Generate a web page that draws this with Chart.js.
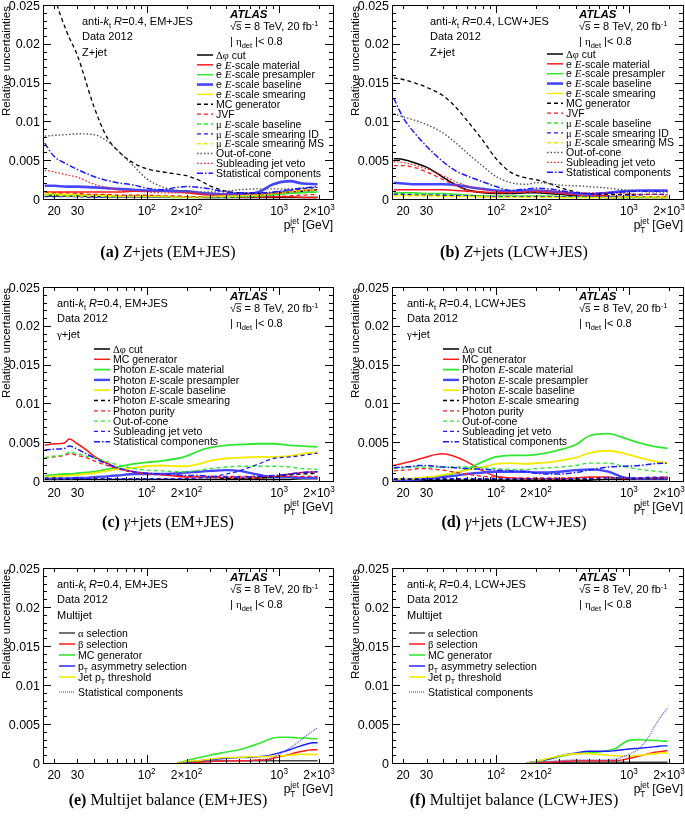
<!DOCTYPE html>
<html><head><meta charset="utf-8">
<script src="https://cdn.jsdelivr.net/npm/chart.js@4.4.1/dist/chart.umd.min.js"></script>
<style>
html,body{margin:0;padding:0;background:#fff}
#wrap{position:relative;width:685px;height:825px;overflow:hidden;background:#fff}
canvas{position:absolute;left:0;top:0}
.cap{position:absolute;width:300px;text-align:center;font-family:"Liberation Serif","Times New Roman",serif;font-size:16px;color:#000;white-space:nowrap;line-height:16px}
</style></head><body><div id="wrap">
<canvas id="ca" width="685" height="825"></canvas>
<canvas id="cb" width="685" height="825"></canvas>
<canvas id="cc" width="685" height="825"></canvas>
<canvas id="cd" width="685" height="825"></canvas>
<canvas id="ce" width="685" height="825"></canvas>
<canvas id="cf" width="685" height="825"></canvas>
<div class="cap" style="left:18px;top:244px"><b>(a)</b> <i>Z</i>+jets (EM+JES)</div>
<div class="cap" style="left:364px;top:244px"><b>(b)</b> <i>Z</i>+jets (LCW+JES)</div>
<div class="cap" style="left:18px;top:514px"><b>(c)</b> <i>γ</i>+jets (EM+JES)</div>
<div class="cap" style="left:364px;top:514px"><b>(d)</b> <i>γ</i>+jets (LCW+JES)</div>
<div class="cap" style="left:18px;top:792px"><b>(e)</b> Multijet balance (EM+JES)</div>
<div class="cap" style="left:364px;top:792px"><b>(f)</b> Multijet balance (LCW+JES)</div>
</div>
<script>
// ---------------- DATA ----------------
const ptZ = [17,20,25,30,40,50,60,80,100,130,170,200,250,300,400,500,700,900,1200,1500,1950];
const ptG = [17,20,24,26,30,35,40,50,60,80,100,130,170,200,250,300,400,500,700,900,1200,1500,1950];
const ptM = [170,200,250,300,400,500,600,700,800,900,1000,1200,1400,1600,1800,1950];

const yTickValues = [0,0.005,0.01,0.015,0.02,0.025];
const yTickLabels = ['0','0.005','0.01','0.015','0.02','0.025'];
const xTickValues = [20,30,100,200,1000,2000];
const xTickLabels = ['20','30','10{sup:2}','2×10{sup:2}','10{sup:3}','2×10{sup:3}'];

// Z+jet EM+JES
const aDphi  = [0.0004,0.0004,0.0004,0.0004,0.0003,0.0003,0.0003,0.0003,0.0003,0.0003,0.0003,0.0003,0.0002,0.0002,0.0002,0.0002,0.0002,0.0002,0.0002,0.0002,0.0002];
const aEMat  = [0.0009,0.0009,0.0009,0.0009,0.0009,0.0009,0.0009,0.001,0.001,0.001,0.0009,0.0008,0.0006,0.0005,0.0004,0.0003,0.0003,0.0003,0.0003,0.0002,0.0002];
const aEPre  = [0.0006,0.0006,0.0005,0.0005,0.0005,0.0004,0.0004,0.0004,0.0004,0.0003,0.0003,0.0003,0.0003,0.0003,0.0003,0.0003,0.0004,0.0005,0.0007,0.0008,0.0009];
const aEBase = [0.0017,0.0017,0.0016,0.0016,0.0015,0.0014,0.0013,0.0012,0.0011,0.0011,0.001,0.001,0.0008,0.0007,0.0006,0.0006,0.0009,0.0019,0.0023,0.002,0.0019];
const aESmr  = [0.0008,0.0007,0.0006,0.0006,0.0005,0.0005,0.0004,0.0004,0.0004,0.0004,0.0003,0.0003,0.0003,0.0003,0.0004,0.0004,0.0005,0.0007,0.001,0.0011,0.0012];
const aMCgen = [0.033,0.0265,0.0215,0.0185,0.0119,0.008,0.0063,0.0046,0.0039,0.0035,0.0032,0.003,0.0024,0.0017,0.001,0.0008,0.0007,0.0008,0.0009,0.001,0.0012];
const aJVF   = [0.0009,0.0008,0.0008,0.0007,0.0006,0.0006,0.0005,0.0005,0.0005,0.0004,0.0004,0.0003,0.0003,0.0003,0.0003,0.0002,0.0002,0.0003,0.0004,0.0005,0.0006];
const aMuBase= [0.0004,0.0004,0.0004,0.0003,0.0003,0.0003,0.0003,0.0003,0.0003,0.0002,0.0002,0.0002,0.0002,0.0002,0.0002,0.0003,0.0004,0.0006,0.0008,0.0009,0.001];
const aMuID  = [0.0003,0.0003,0.0003,0.0003,0.0002,0.0002,0.0002,0.0002,0.0002,0.0002,0.0002,0.0002,0.0002,0.0002,0.0003,0.0004,0.0005,0.0008,0.0011,0.0013,0.0015];
const aMuMS  = [0.0005,0.0005,0.0004,0.0004,0.0004,0.0003,0.0003,0.0003,0.0003,0.0003,0.0002,0.0002,0.0002,0.0003,0.0003,0.0004,0.0005,0.0007,0.0009,0.0011,0.0012];
const aOOC   = [0.0081,0.0082,0.0083,0.0084,0.0083,0.0075,0.0063,0.0042,0.0026,0.0016,0.0011,0.001,0.0009,0.0009,0.001,0.0012,0.0013,0.0013,0.0013,0.0014,0.0015];
const aSubJV = [0.0037,0.0035,0.0031,0.0028,0.0019,0.0015,0.0012,0.001,0.0009,0.0008,0.0008,0.0008,0.0007,0.0006,0.0006,0.0006,0.0006,0.0007,0.0009,0.0011,0.0012];
const aStat  = [0.0072,0.0055,0.0045,0.0038,0.0029,0.0024,0.0021,0.0018,0.0014,0.0012,0.0015,0.0016,0.0015,0.0013,0.0009,0.0008,0.0008,0.0009,0.0012,0.0014,0.0016];

// Z+jet LCW+JES
const bDphi  = [0.0052,0.0051,0.0046,0.0041,0.0028,0.0018,0.0012,0.0008,0.0007,0.0007,0.0008,0.0008,0.0007,0.0006,0.0004,0.0003,0.0002,0.0002,0.0002,0.0002,0.0002];
const bEMat  = [0.0012,0.0012,0.0012,0.0012,0.0012,0.0011,0.001,0.0009,0.0008,0.0009,0.001,0.001,0.0009,0.0008,0.0006,0.0005,0.0004,0.0003,0.0003,0.0003,0.0003];
const bEPre  = [0.0008,0.0008,0.0008,0.0007,0.0007,0.0006,0.0005,0.0004,0.0004,0.0004,0.0004,0.0004,0.0004,0.0003,0.0003,0.0003,0.0003,0.0003,0.0003,0.0003,0.0003];
const bEBase = [0.0021,0.002,0.0019,0.0019,0.0019,0.0018,0.0016,0.0013,0.0011,0.001,0.0011,0.0011,0.001,0.0009,0.0007,0.0006,0.0008,0.001,0.0011,0.0011,0.0011];
const bESmr  = [0.0005,0.0005,0.0005,0.0005,0.0004,0.0004,0.0004,0.0003,0.0003,0.0003,0.0003,0.0003,0.0003,0.0002,0.0002,0.0002,0.0002,0.0002,0.0002,0.0002,0.0002];
const bMCgen = [0.0156,0.0154,0.0149,0.0144,0.0133,0.0118,0.0102,0.0075,0.0052,0.0034,0.0027,0.0025,0.002,0.0015,0.0009,0.0007,0.0006,0.0006,0.0006,0.0006,0.0006];
const bJVF   = [0.0043,0.0043,0.004,0.0035,0.0025,0.0017,0.0012,0.0009,0.0008,0.0008,0.0009,0.0009,0.0008,0.0007,0.0005,0.0004,0.0003,0.0003,0.0003,0.0003,0.0003];
const bMuBase= [0.0007,0.0007,0.0006,0.0006,0.0005,0.0005,0.0004,0.0004,0.0003,0.0003,0.0003,0.0003,0.0003,0.0003,0.0002,0.0002,0.0002,0.0002,0.0002,0.0002,0.0002];
const bMuID  = [0.0006,0.0006,0.0005,0.0005,0.0005,0.0004,0.0004,0.0003,0.0003,0.0003,0.0003,0.0003,0.0003,0.0003,0.0003,0.0003,0.0003,0.0004,0.0005,0.0006,0.0006];
const bMuMS  = [0.0004,0.0004,0.0004,0.0004,0.0003,0.0003,0.0003,0.0003,0.0002,0.0002,0.0002,0.0002,0.0002,0.0002,0.0002,0.0002,0.0002,0.0003,0.0003,0.0003,0.0003];
const bOOC   = [0.011,0.0106,0.0101,0.0096,0.0085,0.0072,0.006,0.0042,0.0029,0.0021,0.0019,0.0021,0.002,0.0018,0.0017,0.0016,0.0014,0.0012,0.001,0.0009,0.0009];
const bSubJV = [0.0048,0.0047,0.0043,0.0039,0.003,0.0022,0.0017,0.0012,0.001,0.0009,0.0009,0.001,0.001,0.0009,0.0008,0.0008,0.0008,0.0007,0.0006,0.0006,0.0005];
const bStat  = [0.013,0.0105,0.0083,0.0068,0.0048,0.0036,0.003,0.0022,0.0016,0.0011,0.0013,0.0014,0.0013,0.0011,0.0008,0.0007,0.0008,0.0009,0.001,0.001,0.001];

// gamma+jet EM+JES
const cDphi  = [0.0002,0.0002,0.0002,0.0002,0.0002,0.0002,0.0002,0.0002,0.0002,0.0002,0.0002,0.0002,0.0002,0.0002,0.0002,0.0002,0.0002,0.0002,0.0002,0.0002,0.0002,0.0003,0.0003];
const cMCgen = [0.0046,0.0048,0.0049,0.0054,0.0048,0.004,0.0032,0.0023,0.0017,0.0012,0.001,0.0008,0.0006,0.0005,0.0005,0.0005,0.0004,0.0004,0.0004,0.0005,0.0009,0.0011,0.0012];
const cMat   = [0.0007,0.0008,0.0009,0.0009,0.001,0.0011,0.0012,0.0015,0.0018,0.0022,0.0024,0.0026,0.0029,0.0032,0.0039,0.0043,0.0046,0.0047,0.0048,0.0048,0.0046,0.0045,0.0044];
const cPre   = [0.0003,0.0003,0.0003,0.0003,0.0004,0.0004,0.0005,0.0006,0.0007,0.0009,0.0009,0.0009,0.001,0.0011,0.0012,0.0013,0.0014,0.0013,0.0008,0.0005,0.0005,0.0004,0.0004];
const cBase  = [0.0005,0.0006,0.0007,0.0007,0.0008,0.0009,0.001,0.0013,0.0015,0.0017,0.0019,0.002,0.0019,0.0019,0.0022,0.0026,0.0029,0.003,0.0031,0.0031,0.0032,0.0035,0.0037];
const cSmr   = [0.0002,0.0002,0.0002,0.0002,0.0002,0.0002,0.0002,0.0002,0.0002,0.0002,0.0002,0.0002,0.0002,0.0002,0.0002,0.0002,0.0003,0.0003,0.0004,0.0005,0.0008,0.0009,0.001];
const cPur   = [0.003,0.0031,0.0033,0.0035,0.0033,0.003,0.0026,0.002,0.0016,0.0011,0.0009,0.0008,0.0007,0.0006,0.0006,0.0006,0.0006,0.0006,0.0006,0.0006,0.0006,0.0006,0.0006];
const cOOC   = [0.003,0.0032,0.0034,0.0037,0.0035,0.0032,0.003,0.0025,0.0021,0.0016,0.0014,0.0013,0.0012,0.0012,0.0014,0.0016,0.0018,0.0019,0.0019,0.0019,0.0018,0.0016,0.0015];
const cSubJV = [0.0004,0.0004,0.0004,0.0004,0.0004,0.0003,0.0003,0.0003,0.0003,0.0003,0.0003,0.0003,0.0003,0.0003,0.0004,0.0005,0.0009,0.0013,0.0022,0.0029,0.0031,0.0033,0.0036];
const cStat  = [0.004,0.0041,0.0042,0.0045,0.0041,0.0035,0.003,0.0022,0.0017,0.0012,0.001,0.0009,0.0008,0.0007,0.0007,0.0006,0.0005,0.0005,0.0006,0.0007,0.0009,0.0011,0.0012];

// gamma+jet LCW+JES
const dDphi  = [0.0001,0.0001,0.0001,0.0001,0.0001,0.0001,0.0001,0.0001,0.0001,0.0001,0.0001,0.0001,0.0001,0.0001,0.0001,0.0001,0.0001,0.0001,0.0002,0.0002,0.0002,0.0002,0.0002];
const dMCgen = [0.002,0.0023,0.0026,0.0028,0.0031,0.0034,0.0035,0.0031,0.0025,0.0013,0.0006,0.0004,0.0003,0.0003,0.0003,0.0003,0.0004,0.0005,0.0005,0.0003,0.0003,0.0004,0.0005];
const dMat   = [0.0002,0.0002,0.0003,0.0003,0.0004,0.0005,0.0007,0.001,0.0015,0.0025,0.0031,0.0033,0.0033,0.0034,0.0037,0.004,0.0047,0.0058,0.0061,0.0056,0.0049,0.0045,0.0042];
const dPre   = [0.0001,0.0001,0.0002,0.0002,0.0003,0.0004,0.0005,0.0007,0.0009,0.0011,0.0012,0.0012,0.0012,0.0011,0.0011,0.0012,0.0014,0.0015,0.0012,0.0005,0.0003,0.0003,0.0003];
const dBase  = [0.0002,0.0003,0.0003,0.0004,0.0005,0.0006,0.0008,0.0011,0.0014,0.0018,0.0022,0.0023,0.0022,0.0023,0.0024,0.0026,0.003,0.0036,0.0039,0.0036,0.003,0.0026,0.0023];
const dSmr   = [0.0002,0.0002,0.0002,0.0002,0.0002,0.0002,0.0002,0.0002,0.0002,0.0002,0.0002,0.0002,0.0002,0.0002,0.0002,0.0002,0.0002,0.0002,0.0002,0.0002,0.0003,0.0003,0.0003];
const dPur   = [0.0013,0.0014,0.0015,0.0016,0.0016,0.0015,0.0014,0.0011,0.0009,0.0006,0.0005,0.0004,0.0004,0.0004,0.0004,0.0004,0.0004,0.0004,0.0004,0.0004,0.0004,0.0004,0.0004];
const dOOC   = [0.0016,0.0017,0.0018,0.0018,0.0018,0.0018,0.0018,0.0018,0.0018,0.0017,0.0016,0.0015,0.0015,0.0016,0.0017,0.0018,0.002,0.0023,0.0023,0.0019,0.0015,0.0013,0.0011];
const dSubJV = [0.0003,0.0003,0.0003,0.0003,0.0003,0.0003,0.0003,0.0003,0.0003,0.0003,0.0003,0.0003,0.0003,0.0003,0.0003,0.0003,0.0003,0.0003,0.0004,0.0004,0.0004,0.0005,0.0005];
const dStat  = [0.0017,0.0018,0.0019,0.002,0.002,0.0019,0.0018,0.0017,0.0016,0.0015,0.0014,0.0013,0.0012,0.001,0.0009,0.0009,0.0011,0.0014,0.0018,0.0019,0.002,0.0022,0.0023];

// Multijet EM+JES
const eAlpha = [0,0.0001,0.0002,0.0002,0.0003,0.0003,0.0003,0.0003,0.0003,0.0003,0.0003,0.0003,0.0003,0.0003,0.0003,0.0003];
const eBeta  = [0,0.0001,0.0001,0.0002,0.0003,0.0003,0.0003,0.0004,0.0004,0.0006,0.0008,0.0011,0.0014,0.0016,0.0017,0.0017];
const eMC    = [0,0.0003,0.0007,0.001,0.0014,0.0017,0.0021,0.0025,0.0029,0.0032,0.0033,0.0033,0.0032,0.0032,0.0031,0.0031];
const eAsym  = [0,0.0001,0.0003,0.0004,0.0006,0.0007,0.0007,0.0008,0.0009,0.0011,0.0013,0.0017,0.0021,0.0024,0.0026,0.0026];
const eJet   = [0,0.0002,0.0003,0.0005,0.0007,0.0007,0.0008,0.0008,0.0008,0.0009,0.0009,0.001,0.0011,0.0011,0.0011,0.0011];
const eStat  = [0,0.0001,0.0002,0.0003,0.0003,0.0003,0.0003,0.0004,0.0005,0.0007,0.0011,0.0019,0.0027,0.0035,0.0041,0.0045];

// Multijet LCW+JES
const fAlpha = [0,0.0001,0.0001,0.0001,0.0001,0.0001,0.0001,0.0001,0.0001,0.0001,0.0001,0.0001,0.0001,0.0001,0.0001,0.0001];
const fBeta  = [0,0.0001,0.0001,0.0002,0.0003,0.0003,0.0003,0.0003,0.0003,0.0004,0.0006,0.0009,0.0012,0.0014,0.0015,0.0016];
const fMC    = [0,0.0002,0.0005,0.0008,0.0012,0.0013,0.0014,0.0016,0.0019,0.0025,0.0029,0.003,0.0029,0.0029,0.0028,0.0028];
const fAsym  = [0,0.0002,0.0005,0.0009,0.0013,0.0015,0.0015,0.0015,0.0016,0.0017,0.0018,0.0019,0.002,0.0021,0.0022,0.0022];
const fJet   = [0,0.0002,0.0006,0.0009,0.0012,0.0012,0.0011,0.001,0.0009,0.0009,0.0009,0.001,0.0011,0.0012,0.0013,0.0013];
const fStat  = [0,0.0001,0.0002,0.0003,0.0004,0.0004,0.0004,0.0004,0.0005,0.0008,0.0011,0.0019,0.0033,0.005,0.0063,0.007];

const labelsZ = ['{g:Δφ} cut','e {it:E}-scale material','e {it:E}-scale presampler','e {it:E}-scale baseline','e {it:E}-scale smearing','MC generator','JVF','{g:μ} {it:E}-scale baseline','{g:μ} {it:E}-scale smearing ID','{g:μ} {it:E}-scale smearing MS','Out-of-cone','Subleading jet veto','Statistical components'];
const labelsG = ['{g:Δφ} cut','MC generator','Photon {it:E}-scale material','Photon {it:E}-scale presampler','Photon {it:E}-scale baseline','Photon {it:E}-scale smearing','Photon purity','Out-of-cone','Subleading jet veto','Statistical components'];
const labelsM = ['{g:α} selection','{g:β} selection','MC generator','p{sub:T} asymmetry selection','Jet p{sub:T} threshold','Statistical components'];

// ---------------- STYLES ----------------
const K='#000000', R='#ff1a1a', G='#33e633', B='#1a1aff', Y='#f2ea00';
const DASH=[4,3], DOT=[1.5,2], DASHDOT=[6,2,1.5,2];
const stylesZ = [{c:K,w:1.5},{c:R,w:1.5},{c:G,w:1.5},{c:'#4646ff',w:2.6},{c:Y,w:1.5},{c:K,w:1.3,d:DASH},{c:R,w:1.3,d:DASH},{c:G,w:1.5,d:DASH},{c:B,w:1.3,d:DASH},{c:Y,w:1.5,d:DASH},{c:'#555555',w:1.4,d:DOT},{c:R,w:1.3,d:DOT},{c:B,w:1.5,d:DASHDOT}];
const stylesG = [{c:K,w:1.5},{c:R,w:1.5},{c:G,w:1.8},{c:'#4646ff',w:2.4},{c:Y,w:1.8},{c:K,w:1.3,d:DASH},{c:R,w:1.3,d:DASH},{c:G,w:1.4,d:DASH},{c:B,w:1.3,d:DASH},{c:B,w:1.5,d:DASHDOT}];
const stylesM = [{c:'#444444',w:1.5},{c:R,w:1.5},{c:G,w:1.6},{c:B,w:1.4},{c:Y,w:1.6},{c:'#5b5bff',w:1.3,d:[1,1]}];

// ---------------- RICH TEXT ----------------
const SANS='"Liberation Sans", Arial, Helvetica, sans-serif';
const SERIF='"Liberation Serif", "Times New Roman", serif';
function parseRich(s){
  const runs=[]; const re=/\{(\w+):([^}]*)\}/g; let last=0, m;
  while((m=re.exec(s))){ if(m.index>last) runs.push({k:'n',t:s.slice(last,m.index)}); runs.push({k:m[1],t:m[2]}); last=re.lastIndex; }
  if(last<s.length) runs.push({k:'n',t:s.slice(last)});
  return runs;
}
function runFont(k,size){
  switch(k){
    case 'it': return `italic ${size*1.05}px ${SERIF}`;
    case 'g': return `${size}px ${SERIF}`;
    case 'ti': return `italic ${size}px ${SANS}`;
    case 'b': return `bold italic ${size}px ${SANS}`;
    case 'sub': case 'sup': case 'subsup': return `${(size*0.68).toFixed(2)}px ${SANS}`;
    default: return `${size}px ${SANS}`;
  }
}
function runWidth(ctx,r,size){
  ctx.font=runFont(r.k,size);
  if(r.k==='subsup'){const p=r.t.split('|');return Math.max(ctx.measureText(p[0]).width,ctx.measureText(p[1]).width);}
  if(r.k==='sqrt'){return ctx.measureText('√').width+ctx.measureText(r.t).width;}
  return ctx.measureText(r.t).width;
}
function drawRich(ctx,s,x,y,size,align){
  const runs=parseRich(s); const ws=runs.map(r=>runWidth(ctx,r,size)); const w=ws.reduce((a,b)=>a+b,0);
  let cx = align==='center'? x-w/2 : align==='right'? x-w : x;
  const base=y+0.36*size;
  ctx.textAlign='left'; ctx.textBaseline='alphabetic'; ctx.fillStyle='#000';
  runs.forEach((r,i)=>{
    ctx.font=runFont(r.k,size);
    if(r.k==='sub'){ ctx.fillText(r.t,cx,base+0.26*size); }
    else if(r.k==='sup'){ ctx.fillText(r.t,cx,base-0.42*size); }
    else if(r.k==='subsup'){ const p=r.t.split('|'); ctx.fillText(p[0],cx,base+0.3*size); ctx.fillText(p[1],cx,base-0.45*size); }
    else if(r.k==='sqrt'){ const w1=ctx.measureText('√').width; ctx.fillText('√',cx,base); ctx.fillText(r.t,cx+w1,base);
      ctx.save(); ctx.strokeStyle='#000'; ctx.lineWidth=0.8; ctx.beginPath(); ctx.moveTo(cx+w1-0.5,base-0.8*size); ctx.lineTo(cx+ws[i],base-0.8*size); ctx.stroke(); ctx.restore(); }
    else ctx.fillText(r.t,cx,base);
    cx+=ws[i];
  });
}

// ---------------- PANELS ----------------
const XMIN=16.5, XMAX=2550;
const panels = [
  {id:'ca', box:{l:43,r:333,t:5,b:199}, xs:ptZ, vals:[aDphi,aEMat,aEPre,aEBase,aESmr,aMCgen,aJVF,aMuBase,aMuID,aMuMS,aOOC,aSubJV,aStat], labels:labelsZ, styles:stylesZ,
   head:{x:82, calib:'EM+JES', proc:'Z+jet'}, atlasX:230, leg:{x1:197,x2:213,tx:216,ys:Array.from({length:13},(_,i)=>55+i*9.85)}},
  {id:'cb', box:{l:392,r:683,t:5,b:199}, xs:ptZ, vals:[bDphi,bEMat,bEPre,bEBase,bESmr,bMCgen,bJVF,bMuBase,bMuID,bMuMS,bOOC,bSubJV,bStat], labels:labelsZ, styles:stylesZ,
   head:{x:430, calib:'LCW+JES', proc:'Z+jet'}, atlasX:579, leg:{x1:547,x2:563,tx:566,ys:Array.from({length:13},(_,i)=>54+i*9.85)}},
  {id:'cc', box:{l:43,r:333,t:287,b:481}, xs:ptG, vals:[cDphi,cMCgen,cMat,cPre,cBase,cSmr,cPur,cOOC,cSubJV,cStat], labels:labelsG, styles:stylesG,
   head:{x:57, calib:'EM+JES', proc:'{g:γ}+jet'}, atlasX:230, leg:{x1:94,x2:110,tx:113,ys:Array.from({length:10},(_,i)=>349+i*10.3)}},
  {id:'cd', box:{l:392,r:683,t:287,b:481}, xs:ptG, vals:[dDphi,dMCgen,dMat,dPre,dBase,dSmr,dPur,dOOC,dSubJV,dStat], labels:labelsG, styles:stylesG,
   head:{x:407, calib:'LCW+JES', proc:'{g:γ}+jet'}, atlasX:579, leg:{x1:443,x2:459,tx:462,ys:Array.from({length:10},(_,i)=>349+i*10.3)}},
  {id:'ce', box:{l:43,r:333,t:568,b:763}, xs:ptM, vals:[eAlpha,eBeta,eMC,eAsym,eJet,eStat], labels:labelsM, styles:stylesM,
   head:{x:57, calib:'EM+JES', proc:'Multijet'}, atlasX:230, leg:{x1:59,x2:75,tx:78,ys:[633,644,655,666,677,692]}},
  {id:'cf', box:{l:392,r:683,t:568,b:763}, xs:ptM, vals:[fAlpha,fBeta,fMC,fAsym,fJet,fStat], labels:labelsM, styles:stylesM,
   head:{x:407, calib:'LCW+JES', proc:'Multijet'}, atlasX:579, leg:{x1:409,x2:425,tx:428,ys:[633,644,655,666,677,692]}}
];

const info = {};
const deco = {
  id:'deco',
  afterDraw(chart){
    const p=info[chart.canvas.id]; if(!p) return;
    const ctx=chart.ctx, xs=chart.scales.x, ys=chart.scales.y, a=chart.chartArea;
    const l=a.left, r=a.right, t=a.top, b=a.bottom;
    ctx.save();
    ctx.strokeStyle='#000'; ctx.lineWidth=1; ctx.setLineDash([]);
    ctx.strokeRect(Math.round(l)+0.5,Math.round(t)+0.5,Math.round(r-l),Math.round(b-t));
    ctx.beginPath();
    for(let k=0;k<=25;k++){
      const v=k*0.001, yp=Math.round(ys.getPixelForValue(v))+0.5, len=(k%5===0)?8:4;
      ctx.moveTo(l,yp); ctx.lineTo(l+len,yp); ctx.moveTo(r,yp); ctx.lineTo(r-len,yp);
    }
    const xt=[]; for(const dec of [10,100,1000]) for(let m=1;m<10;m++) xt.push(m*dec);
    xt.forEach(v=>{ if(v<XMIN||v>XMAX) return; const xp=Math.round(xs.getPixelForValue(v))+0.5; const len=(v===100||v===1000)?8:4;
      ctx.moveTo(xp,b); ctx.lineTo(xp,b-len); ctx.moveTo(xp,t); ctx.lineTo(xp,t+len); });
    ctx.stroke();
    yTickValues.forEach((v,i)=>drawRich(ctx,yTickLabels[i],l-3,ys.getPixelForValue(v),12.5,'right'));
    xTickValues.forEach((v,i)=>drawRich(ctx,xTickLabels[i],xs.getPixelForValue(v),b+12,12,'center'));
    drawRich(ctx,'p{subsup:T|jet} [GeV]',r,b+26,12,'right');
    ctx.save(); ctx.translate(l-37,t+1); ctx.rotate(-Math.PI/2);
    drawRich(ctx,'Relative uncertainties',0,0,11.5,'right'); ctx.restore();
    const h=p.head;
    drawRich(ctx,'anti-{ti:k}{sub:t} {ti:R}=0.4, '+h.calib,h.x,t+16,11,'left');
    drawRich(ctx,'Data 2012',h.x,t+31.5,11,'left');
    drawRich(ctx,h.proc,h.x,t+47.5,11,'left');
    drawRich(ctx,'{b:ATLAS}',p.atlasX,t+8.5,11.5,'left');
    drawRich(ctx,'{sqrt:s} = 8 TeV, 20 fb{sup:-1}',p.atlasX,t+21.5,11,'left');
    drawRich(ctx,'| {g:η}{sub:det} |< 0.8',p.atlasX,t+36,11,'left');
    const lg=p.leg;
    p.labels.forEach((lab,i)=>{
      const st=p.styles[i], y=lg.ys[i];
      ctx.save(); ctx.strokeStyle=st.c; ctx.lineWidth=st.w; ctx.setLineDash(st.d||[]);
      ctx.beginPath(); ctx.moveTo(lg.x1,y); ctx.lineTo(lg.x2,y); ctx.stroke(); ctx.restore();
      drawRich(ctx,lab,lg.tx,y,10.5,'left');
    });
    ctx.restore();
  }
};

panels.forEach(p=>{
  info[p.id]=p;
  const n=p.vals.length;
  const datasets=p.vals.map((vals,i)=>({
    label:p.labels[i],
    data:p.xs.map((x,j)=>({x:x,y:vals[j]})),
    borderColor:p.styles[i].c, borderWidth:p.styles[i].w, borderDash:p.styles[i].d||[],
    pointRadius:0, fill:false, cubicInterpolationMode:'monotone', order:n-1-i
  }));
  new Chart(document.getElementById(p.id),{
    type:'line',
    data:{datasets},
    options:{
      responsive:false, animation:false, events:[],
      layout:{padding:{left:p.box.l,top:p.box.t,right:685-p.box.r,bottom:825-p.box.b}},
      scales:{
        x:{type:'logarithmic',min:XMIN,max:XMAX,display:false},
        y:{type:'linear',min:0,max:0.025,display:false}
      },
      plugins:{legend:{display:false},tooltip:{enabled:false}}
    },
    plugins:[deco]
  });
});
</script>
</body></html>
